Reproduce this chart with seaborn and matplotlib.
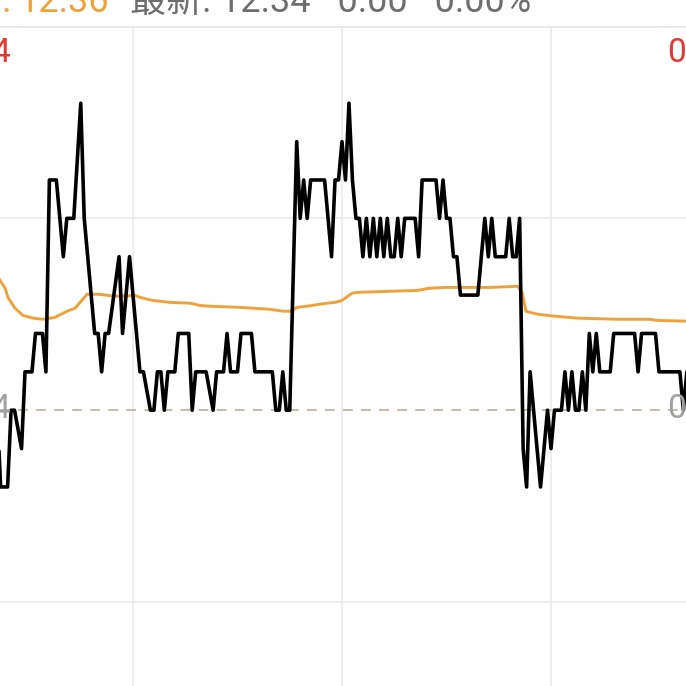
import matplotlib
matplotlib.use("Agg")
import matplotlib.pyplot as plt
import seaborn as sns
import pandas as pd

# ---------------- data ----------------
prev_close = 12.34
price_top = 12.44
top_pct = "0.81%"
mid_pct = "0.00%"
header_avg = "12.36"
header_last = "最新: 12.34   0.00   0.00%"

# price line vertices: minutes since open, price
price_t = [21, 22, 24, 25, 26, 28, 29, 31, 32, 34, 35, 36, 38, 40, 41, 43, 45, 46, 47, 48,
           49, 50, 51, 52, 53, 56, 57, 58, 59, 62, 63, 65, 66, 67, 68, 69, 70, 72, 73, 76,
           77, 78, 81, 83, 84, 86, 87, 88, 90, 91, 94, 95, 100, 101, 102, 103, 104, 105, 107, 108,
           109, 110, 111, 115, 117, 118, 119, 120, 121, 122, 123, 124, 125, 126, 127, 128, 129, 130, 131, 132,
           133, 134, 135, 136, 137, 138, 141, 142, 143, 147, 148, 149, 150, 151, 152, 153, 154, 159, 161, 162,
           163, 164, 167, 168, 169, 170, 171, 172, 173, 174, 177, 179, 180, 181, 183, 184, 185, 186, 187, 188,
           189, 190, 191, 192, 193, 194, 197, 198, 204, 205, 206, 210, 211, 217, 218, 219]
price_v = [12.34, 12.32, 12.32, 12.34, 12.34, 12.33, 12.35, 12.35, 12.36, 12.36, 12.35, 12.40, 12.40, 12.38, 12.39, 12.39, 12.42, 12.39, 12.38, 12.37,
           12.36, 12.36, 12.35, 12.36, 12.36, 12.38, 12.36, 12.37, 12.38, 12.35, 12.35, 12.34, 12.34, 12.35, 12.35, 12.34, 12.35, 12.35, 12.36, 12.36,
           12.34, 12.35, 12.35, 12.34, 12.35, 12.35, 12.36, 12.35, 12.35, 12.36, 12.36, 12.35, 12.35, 12.34, 12.34, 12.35, 12.34, 12.34, 12.41, 12.39,
           12.40, 12.39, 12.40, 12.40, 12.38, 12.40, 12.40, 12.41, 12.40, 12.42, 12.40, 12.39, 12.39, 12.38, 12.39, 12.38, 12.39, 12.38, 12.39, 12.38,
           12.39, 12.38, 12.38, 12.39, 12.38, 12.39, 12.39, 12.38, 12.40, 12.40, 12.39, 12.40, 12.39, 12.39, 12.38, 12.38, 12.37, 12.37, 12.39, 12.38,
           12.39, 12.38, 12.38, 12.39, 12.38, 12.38, 12.39, 12.33, 12.32, 12.35, 12.32, 12.34, 12.33, 12.34, 12.34, 12.35, 12.34, 12.35, 12.34, 12.34,
           12.35, 12.34, 12.36, 12.35, 12.36, 12.35, 12.35, 12.36, 12.36, 12.35, 12.36, 12.36, 12.35, 12.35, 12.34, 12.35]

# average price line vertices
avg_t = [21, 23.3, 24.1, 26.1, 28.4, 31.3, 34.2, 37.6, 41.1, 43.4, 44.8, 46.8, 50.5, 54.8, 60.6, 62, 65.7, 70.6, 76.4, 79.2,
         82.1, 90.7, 99.3, 103.1, 105.1, 107.1, 109.9, 115.7, 118, 120, 122.9, 124.3, 133.8, 141.5, 145.3, 149.6, 162.5, 170.5, 171.7, 172.8,
         174, 176.3, 181.1, 187.5, 198.9, 208.4, 210.4, 219]
avg_v = [12.3750, 12.3718, 12.3694, 12.3666, 12.3647, 12.3640, 12.3637, 12.3642, 12.3658, 12.3666, 12.3681, 12.3702, 12.3702, 12.3697, 12.3699, 12.3694, 12.3686, 12.3681, 12.3679, 12.3673,
         12.3671, 12.3668, 12.3663, 12.3658, 12.3658, 12.3668, 12.3671, 12.3679, 12.3681, 12.3686, 12.3705, 12.3707, 12.3710, 12.3712, 12.3718, 12.3720, 12.3720, 12.3723, 12.3707, 12.3658,
         12.3655, 12.3650, 12.3645, 12.3640, 12.3637, 12.3637, 12.3634, 12.3632]

vgrid_t = [60, 120, 180]
hgrid_p = [12.39, 12.29]

# ---------------- figure ----------------
sns.set_theme(style="white")
plt.rcParams['font.family'] = ['Roboto', 'Noto Sans CJK SC', 'DejaVu Sans']

W = H = 686
fig = plt.figure(figsize=(W / 100, H / 100), dpi=100)
top_px = 26.5
ax = fig.add_axes([0, 0, 1, (H - top_px) / H])

px_per_min = 209 / 60.0
x0 = 21.82
ax.set_xlim(x0, x0 + W / px_per_min)
px_per_cent = 38.4
ax.set_ylim(prev_close - (H - 410) / px_per_cent * 0.01, price_top)

for s in ["left", "right", "bottom"]:
    ax.spines[s].set_visible(False)
ax.spines["top"].set_color("#e6e6e6")
ax.spines["top"].set_linewidth(1.2)
ax.set_xticks([])
ax.set_yticks([])

for t in vgrid_t:
    ax.axvline(t, color="#e8e8e8", lw=1.1, zorder=0)
for p in hgrid_p:
    ax.axhline(p, color="#e8e8e8", lw=1.1, zorder=0)

lw_d = 1.1
ax.axhline(prev_close, color="#b8a890", lw=lw_d, dashes=(7.0 / lw_d, 6.0 / lw_d), zorder=1)

df_avg = pd.DataFrame({"t": avg_t, "p": avg_v})
df_price = pd.DataFrame({"t": price_t, "p": price_v})
sns.lineplot(data=df_avg, x="t", y="p", ax=ax, color="#f0a23a", lw=2.1,
             sort=False, estimator=None, zorder=2)
sns.lineplot(data=df_price, x="t", y="p", ax=ax, color="#000000", lw=2.6,
             sort=False, estimator=None, zorder=3)
ax.set_xlabel("")
ax.set_ylabel("")

red = "#e03a32"
gray_lab = "#a0a0a0"
fs_lab = 24

def fx(px):
    return px / W

def fy(py):
    return 1 - py / H

fig.text(fx(11), fy(62), f"{price_top:.2f}", color=red, fontsize=fs_lab, ha="right", va="baseline")
fig.text(fx(11), fy(418), f"{prev_close:.2f}", color=gray_lab, fontsize=fs_lab, ha="right", va="baseline")
fig.text(fx(667), fy(62), top_pct, color=red, fontsize=fs_lab, ha="left", va="baseline")
fig.text(fx(667), fy(418), mid_pct, color=gray_lab, fontsize=fs_lab, ha="left", va="baseline")

fig.text(fx(12), fy(12), "均价:", color="#f0a23a", fontsize=26, ha="right", va="baseline")
fig.text(fx(19), fy(12), header_avg, color="#f0a23a", fontsize=26, ha="left", va="baseline")
fig.text(fx(130), fy(12), header_last, color="#6e6e6e", fontsize=26, ha="left", va="baseline")

fig.savefig("out.png", dpi=100)
